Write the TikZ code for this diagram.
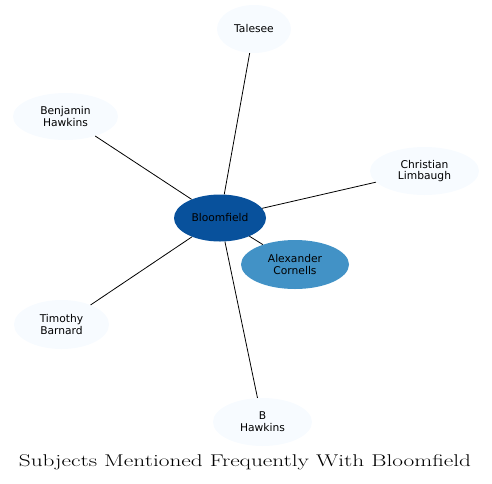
\documentclass[tikz,border=0pt]{standalone}
\usepackage{fontspec}
\usepackage{tikz}
\usetikzlibrary{shapes.geometric}
\newfontfamily\subjfont{DejaVu Sans}
\definecolor{hubblue}{HTML}{08519C}
\definecolor{midblue}{HTML}{4292C6}
\definecolor{paleblue}{HTML}{F7FBFF}
\tikzset{
  subj/.style={ellipse,draw=none,fill=paleblue,inner sep=0pt,align=center,
    font=\subjfont\fontsize{10.7}{11.7}\selectfont,minimum height=48},
  link/.style={draw=black,line width=0.8pt}
}

\begin{document}
\begin{tikzpicture}[x=1pt,y=-1pt]
\useasboundingbox (0,0) rectangle (492,483);
% subject nodes:
\node[subj,fill=hubblue,minimum width=92,minimum height=47] (bloomfield) at (220,218) {Bloomfield};
\node[subj,fill=midblue,minimum width=108,minimum height=49] (cornells) at (295,264.5) {Alexander\\Cornells};
\node[subj,minimum width=74] (talesee) at (254,29) {Talesee};
\node[subj,minimum width=105,minimum height=47] (bhawkins) at (65.5,116.5) {Benjamin\\Hawkins};
\node[subj,minimum width=109] (limbaugh) at (424.5,171) {Christian\\Limbaugh};
\node[subj,minimum width=95,minimum height=49] (barnard) at (61.5,324.5) {Timothy\\Barnard};
\node[subj,minimum width=99] (hawkins) at (262.5,422) {B\\Hawkins};
% links:
\foreach \other in {cornells,talesee,bhawkins,limbaugh,barnard,hawkins}
  \path[link] (bloomfield) -- (\other);
% title:
\node[anchor=base,inner sep=0pt,font=\fontsize{17}{20}\selectfont] (title) at (245,466.5)
  {\scalebox{1.37}[1]{Subjects Mentioned Frequently With Bloomfield}};
\end{tikzpicture}
\end{document}
